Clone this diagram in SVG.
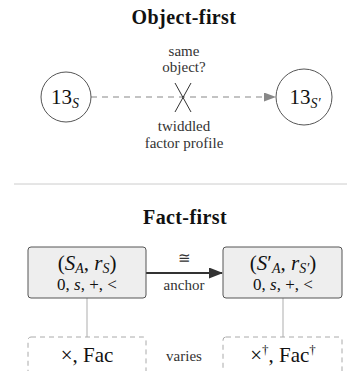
<svg xmlns="http://www.w3.org/2000/svg" width="361" height="371" viewBox="0 0 361 371" font-family="Liberation Serif, serif">
<style>
.title{font-size:20px;font-weight:bold;text-anchor:middle;fill:#111;letter-spacing:0.4px}
.lbl{font-size:15px;text-anchor:middle;fill:#333}
.node{fill:#fff;stroke:#555;stroke-width:1}
.math{font-size:21px;text-anchor:middle;fill:#111}
.mline{font-size:17px;text-anchor:middle;fill:#111}
.sub{font-size:14px;font-style:italic}
.box{fill:#eeeeee;stroke:#555;stroke-width:1}
.dbox{fill:#fff;stroke:#aaa;stroke-width:1;stroke-dasharray:5,4}
.link{stroke:#bbb;stroke-width:1.2;fill:none}
</style>
<defs>
<marker id="ah-gray" markerWidth="12" markerHeight="9" refX="11" refY="4.5" orient="auto" markerUnits="userSpaceOnUse">
<path d="M0,0 L12,4.5 L0,9 Z" fill="#888"/>
</marker>
<marker id="ah-dark" markerWidth="14" markerHeight="11" refX="13" refY="5.5" orient="auto" markerUnits="userSpaceOnUse">
<path d="M0,0 L14,5.5 L0,11 Z" fill="#333"/>
</marker>
</defs>
<text class="title" x="184" y="24" font-family="Liberation Serif, serif">Object-first</text>
<g id="connectors">
<line x1="91" y1="97" x2="275" y2="97" stroke="#888" stroke-width="1.2" stroke-dasharray="6,5" marker-end="url(#ah-gray)"/>
<line x1="175" y1="83" x2="191" y2="112" stroke="#333" stroke-width="1"/>
<line x1="191" y1="83" x2="175" y2="112" stroke="#333" stroke-width="1"/>
<line x1="146" y1="273" x2="222" y2="273" stroke="#333" stroke-width="1.8" marker-end="url(#ah-dark)"/>
<line class="link" x1="87" y1="298" x2="87" y2="337"/>
<line class="link" x1="283" y1="298" x2="283" y2="337"/>
</g>
<g id="edge-labels" font-family="Liberation Serif, serif">
<text class="lbl" x="184" y="56">same</text>
<text class="lbl" x="184" y="72">object?</text>
<text class="lbl" x="184" y="131">twiddled</text>
<text class="lbl" x="184" y="148">factor profile</text>
<text class="lbl" x="184" y="263">≅</text>
<text class="lbl" x="184" y="290">anchor</text>
<text class="lbl" x="184" y="361">varies</text>
</g>
<g id="node-13S" font-family="Liberation Serif, serif">
<circle class="node" cx="66" cy="97" r="25"/>
<text class="math" x="65" y="104">13<tspan class="sub" dy="4">S</tspan></text>
</g>
<g id="node-13Sp" font-family="Liberation Serif, serif">
<circle class="node" cx="304" cy="97" r="28"/>
<text class="math" x="305" y="104">13<tspan class="sub" dy="4">S′</tspan></text>
</g>
<line x1="14" y1="184" x2="347" y2="184" stroke="#ccc" stroke-width="1"/>
<text class="title" x="185" y="224" font-family="Liberation Serif, serif">Fact-first</text>
<g id="node-SA" font-family="Liberation Serif, serif">
<rect class="box" x="28" y="247" width="118" height="51" rx="3"/>
<text class="math" x="87" y="270">(<tspan font-style="italic">S</tspan><tspan class="sub" dy="3">A</tspan><tspan dy="-3">, </tspan><tspan font-style="italic">r</tspan><tspan class="sub" dy="3">S</tspan><tspan dy="-3">)</tspan></text>
<text class="mline" x="87" y="290">0, <tspan font-style="italic">s</tspan>, +, &lt;</text>
</g>
<g id="node-SAp" font-family="Liberation Serif, serif">
<rect class="box" x="223" y="247" width="119" height="51" rx="3"/>
<text class="math" x="283" y="270">(<tspan font-style="italic">S</tspan>′<tspan class="sub" dy="3">A</tspan><tspan dy="-3">, </tspan><tspan font-style="italic">r</tspan><tspan class="sub" dy="3">S′</tspan><tspan dy="-3">)</tspan></text>
<text class="mline" x="283" y="290">0, <tspan font-style="italic">s</tspan>, +, &lt;</text>
</g>
<g id="node-Fac" font-family="Liberation Serif, serif">
<rect class="dbox" x="28" y="337" width="118" height="44" rx="3"/>
<text class="math" x="87" y="362">×, Fac</text>
</g>
<g id="node-Facd" font-family="Liberation Serif, serif">
<rect class="dbox" x="223" y="337" width="119" height="44" rx="3"/>
<text class="math" x="283" y="362">×<tspan font-size="13" dy="-8">†</tspan><tspan dy="8">, Fac</tspan><tspan font-size="13" dy="-8">†</tspan></text>
</g>
</svg>
